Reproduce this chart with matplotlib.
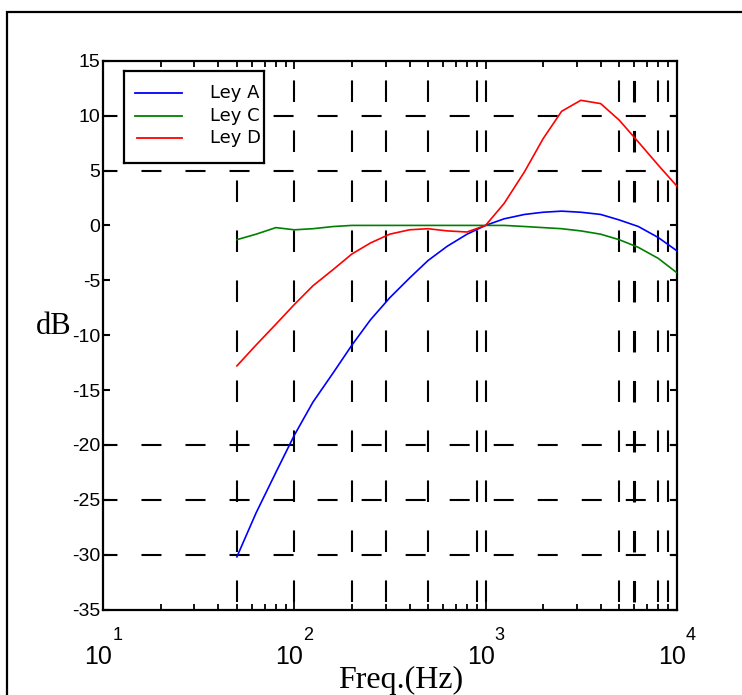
import matplotlib
matplotlib.use("Agg")
import matplotlib.pyplot as plt
from matplotlib import font_manager
from matplotlib.patches import Rectangle
from matplotlib.transforms import blended_transform_factory, ScaledTranslation

# ---------------- data ----------------
freqs = [50, 63, 80, 100, 125, 160, 200, 250, 315, 400, 500, 630, 800,
         1000, 1250, 1600, 2000, 2500, 3150, 4000, 5000, 6300, 8000, 10000]
ley_a = [-30.2, -26.2, -22.5, -19.1, -16.1, -13.4, -10.9, -8.6, -6.6, -4.8,
         -3.2, -1.9, -0.8, 0.0, 0.6, 1.0, 1.2, 1.3, 1.2, 1.0, 0.5, -0.1,
         -1.1, -2.3]
ley_c = [-1.3, -0.8, -0.2, -0.4, -0.3, -0.1, 0.0, 0.0, 0.0, 0.0, 0.0, 0.0,
         0.0, 0.0, 0.0, -0.1, -0.2, -0.3, -0.5, -0.8, -1.3, -2.0, -3.0, -4.3]
ley_d = [-12.8, -10.9, -9.0, -7.2, -5.5, -4.0, -2.6, -1.6, -0.8, -0.4,
         -0.3, -0.5, -0.6, 0.0, 2.0, 4.9, 7.9, 10.4, 11.4, 11.1, 9.6, 7.6,
         5.5, 3.6]
series_names = ["Ley A", "Ley C", "Ley D"]
series_colors = ["#0000ff", "#008000", "#ff0000"]

yticks = [15, 10, 5, 0, -5, -10, -15, -20, -25, -30, -35]
xdecades = [10, 100, 1000, 10000]
xexponents = ["1", "2", "3", "4"]
vgrid_freqs = [50, 100, 200, 300, 500, 900, 1000, 5000, 6000, 8000, 9000]
hgrid_levels = [10, 5, -20, -25, -30]

# ---------------- style ----------------
plt.rcParams["lines.scale_dashes"] = False
names = {f.name for f in font_manager.fontManager.ttflist}
narrow = "Liberation Sans Narrow" if "Liberation Sans Narrow" in names else "Liberation Sans"
serif = "Liberation Serif"

W, H = 742, 695
fig = plt.figure(figsize=(W / 100, H / 100), dpi=100)

def fx(px):
    return px / W

def fy(py):
    return 1 - py / H

# outer frame (extends beyond right / bottom edges)
fig.add_artist(Rectangle((fx(7), -0.1), 1.2, fy(12) + 0.1, transform=fig.transFigure,
                         fill=False, lw=1.6, ec="black"))

ax_l, ax_r, ax_t, ax_b = 103.3, 676.7, 60.8, 609.5
ax = fig.add_axes([fx(ax_l), fy(ax_b), fx(ax_r - ax_l), (ax_b - ax_t) / H])
ax.set_xscale("log")
ax.set_xlim(10, 10000)
ax.set_ylim(-35, 15)

# grid (dashed)
for f in vgrid_freqs:
    lw = 2.2 if f == 6000 else 1.5
    ax.plot([f, f], [15, -35], color="black", lw=lw, ls=(22, (15.5, 20.5)), zorder=1)
for lv in hgrid_levels:
    ax.plot([10, 10000], [lv, lv], color="black", lw=1.5, ls=(4, (14.4, 17.3)), zorder=1)

# curves
for vals, col in zip([ley_a, ley_c, ley_d], series_colors):
    ax.plot(freqs, vals, color=col, lw=1.2, zorder=3)

# ticks
ax.set_yticks(yticks)
ax.set_yticklabels([str(v) for v in yticks], fontfamily=narrow, fontsize=14)
ax.tick_params(axis="y", which="major", direction="in", length=5, width=1.5,
               left=True, right=True, pad=2)
ax.set_xticks(xdecades)
ax.set_xticklabels([""] * len(xdecades))
ax.tick_params(axis="x", which="major", direction="in", length=6, width=1.3,
               top=True, bottom=True)
ax.tick_params(axis="x", which="minor", direction="in", length=4, width=1.3,
               top=True, bottom=True, labelbottom=False)
for s in ax.spines.values():
    s.set_linewidth(1.6)

# x tick labels 10^n
tr = blended_transform_factory(ax.transData, fig.transFigure)
for d, e in zip(xdecades, xexponents):
    t1 = tr + ScaledTranslation(-5 / 100, 0, fig.dpi_scale_trans)
    ax.text(d, fy(657), "10", transform=t1, ha="center", va="center",
            fontfamily=narrow, fontsize=18, clip_on=False)
    t2 = tr + ScaledTranslation(14 / 100, 0, fig.dpi_scale_trans)
    ax.text(d, fy(636), e, transform=t2, ha="center", va="center",
            fontfamily=narrow, fontsize=13, clip_on=False)

# axis labels
fig.text(fx(54), fy(326), "dB", fontfamily=serif, fontsize=22, ha="center", va="center")
fig.text(fx(401), fy(680), "Freq.(Hz)", fontfamily=serif, fontsize=23, ha="center", va="center")

# legend box
lg_l, lg_r, lg_t, lg_b = 124, 264, 70.7, 162.7
lax = fig.add_axes([fx(lg_l), fy(lg_b), fx(lg_r - lg_l), (lg_b - lg_t) / H])
lax.set_xlim(0, lg_r - lg_l)
lax.set_ylim(lg_b - lg_t, 0)
lax.set_xticks([])
lax.set_yticks([])
lax.set_facecolor("white")
for s in lax.spines.values():
    s.set_linewidth(1.6)
leg_y = [22, 45, 67]
leg_x0 = [11, 11, 13]
for name, col, yy, x0 in zip(series_names, series_colors, leg_y, leg_x0):
    lax.plot([x0, 58], [yy, yy], color=col, lw=1.3)
    lax.text(86, yy, name, fontfamily="DejaVu Sans", fontsize=13,
             ha="left", va="center", clip_on=True)

fig.savefig("out.png", dpi=100)
